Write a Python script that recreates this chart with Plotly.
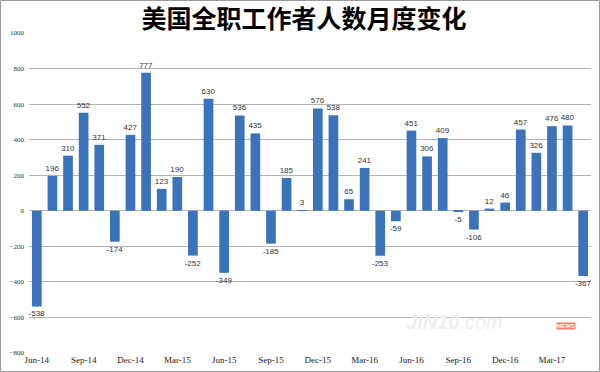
import plotly.graph_objects as go

months = ["Jun-14","Jul-14","Aug-14","Sep-14","Oct-14","Nov-14","Dec-14","Jan-15","Feb-15","Mar-15",
          "Apr-15","May-15","Jun-15","Jul-15","Aug-15","Sep-15","Oct-15","Nov-15","Dec-15","Jan-16",
          "Feb-16","Mar-16","Apr-16","May-16","Jun-16","Jul-16","Aug-16","Sep-16","Oct-16","Nov-16",
          "Dec-16","Jan-17","Feb-17","Mar-17","Apr-17","May-17"]
values = [-538,196,310,552,371,-174,427,777,123,190,
          -252,630,-349,536,435,-185,185,3,576,538,
          65,241,-253,-59,451,306,409,-5,-106,12,
          46,457,326,476,480,-367]
tick_labels = ["Jun-14","Sep-14","Dec-14","Mar-15","Jun-15","Sep-15","Dec-15","Mar-16",
               "Jun-16","Sep-16","Dec-16","Mar-17"]
y_ticks = [-800,-600,-400,-200,0,200,400,600,800,1000]

L, R, T, B = 29, 9, 33, 19
W, H = 600, 372
pw, ph = W - L - R, H - T - B

def px(x):
    return (x - L) / pw

def py(y):
    return (H - B - y) / ph

fig = go.Figure()
fig.add_trace(go.Bar(
    x=months, y=values,
    marker=dict(color="#3b73ba", line=dict(width=0)),
    text=[str(v) for v in values], textposition="outside",
    constraintext="none",
    textfont=dict(family="Liberation Sans, Arial", size=8, color="#333333"),
    cliponaxis=False,
))

fig.update_layout(
    width=W, height=H,
    margin=dict(l=L, r=R, t=T, b=B, autoexpand=False),
    paper_bgcolor="white", plot_bgcolor="white",
    bargap=0.38,
    showlegend=False,
    title=dict(text="<b>美国全职工作者人数月度变化</b>", x=px(304), xref="paper", xanchor="center",
               y=1 - 19 / H, yanchor="middle",
               font=dict(family="Noto Sans CJK SC", size=25, color="#000000")),
    xaxis=dict(type="category", tickmode="array", tickvals=tick_labels, ticktext=tick_labels,
               showgrid=False, showline=False, ticks="", zeroline=False, automargin=False,
               tickfont=dict(family="Liberation Serif, Times New Roman", size=9, color="#222222"),
               range=[-0.5, len(months) - 0.5]),
    yaxis=dict(range=[-800, 1000], tickmode="array", tickvals=y_ticks,
               showgrid=True, gridcolor="#b4b4b4", gridwidth=1,
               zeroline=True, zerolinecolor="#b4b4b4", zerolinewidth=1,
               showline=False, ticks="", automargin=False,
               ticklabelstandoff=4,
               tickfont=dict(family="Liberation Serif, Times New Roman", size=7, color="#333333")),
    shapes=[dict(type="rect", xref="paper", yref="paper",
                 x0=px(0.5), x1=px(599.5), y0=py(371.5), y1=py(0.5),
                 line=dict(color="#9a9a9a", width=1), fillcolor="rgba(0,0,0,0)")],
    annotations=[
        dict(text="<i><b>JIN10</b>.com</i>", xref="paper", yref="paper", x=px(505), y=py(335),
             showarrow=False, font=dict(family="Liberation Sans", size=20, color="#eeeeee")),
        dict(text="<b>NEWS</b>", xref="paper", yref="paper", x=px(576), y=py(330),
             showarrow=False, bgcolor="#f08070", borderpad=0,
             font=dict(family="Liberation Sans", size=6, color="white")),
    ],
)

fig.write_html("out.html", config={"displayModeBar": False},
               post_script="document.body.style.margin='0';document.body.style.overflow='hidden';")
